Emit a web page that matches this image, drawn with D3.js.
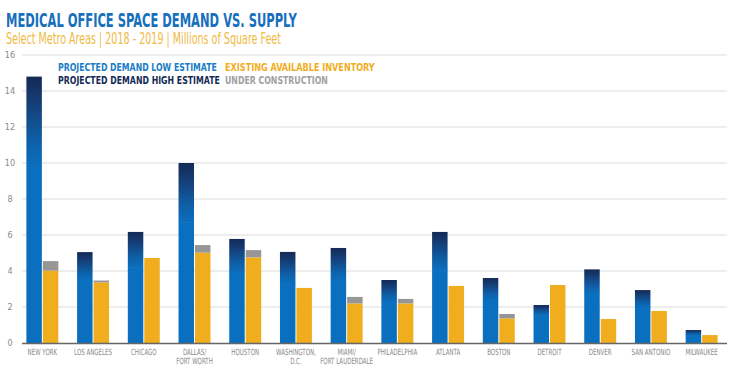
<!DOCTYPE html>
<html><head><meta charset="utf-8">
<script src="https://cdn.jsdelivr.net/npm/d3@7"></script>
<style>
body{margin:0;background:#fff;}
svg{display:block;}
text{font-family:"DejaVu Sans Condensed","Liberation Sans Narrow","Roboto",sans-serif;}
</style></head>
<body><svg id="c" width="742" height="365"></svg>
<script>
const cities = [["NEW YORK"],["LOS ANGELES"],["CHICAGO"],["DALLAS/","FORT WORTH"],["HOUSTON"],["WASHINGTON,","D.C."],["MIAMI/","FORT LAUDERDALE"],["PHILADELPHIA"],["ATLANTA"],["BOSTON"],["DETROIT"],["DENVER"],["SAN ANTONIO"],["MILWAUKEE"]];
const demandHigh = [14.8, 5.05, 6.17, 10.0, 5.78, 5.06, 5.28, 3.5, 6.17, 3.61, 2.11, 4.09, 2.94, 0.72];
const demandLow  = [9.8, 3.5, 4.2, 6.7, 3.9, 3.3, 3.5, 2.3, 4.05, 2.4, 1.55, 2.8, 2.0, 0.45];
const existing   = [4.02, 3.37, 4.72, 5.02, 4.76, 3.06, 2.2, 2.2, 3.17, 1.37, 3.22, 1.33, 1.78, 0.44];
const underConst = [0.53, 0.1, 0, 0.42, 0.4, 0, 0.36, 0.25, 0, 0.24, 0, 0, 0, 0];
const yTicks = [0,2,4,6,8,10,12,14,16];

const C = {blue:"#0b6fbf", navy:"#142a55", yellow:"#f0ad1e", grey:"#969696", title:"#1670bb", sub:"#efba3f", tick:"#8a8a8a"};

const svg = d3.select("#c");
const y = d3.scaleLinear().domain([0,16]).range([343,55]);
const x = d3.scaleBand().domain(d3.range(cities.length)).range([17,727]).paddingInner(0.37).paddingOuter(0.185);
const xs = d3.scaleBand().domain(["d","s"]).range([0,x.bandwidth()]).paddingInner(0.06);

function fitText(sel, x0, y0, w){
  sel.each(function(){
    const t = d3.select(this);
    const nat = this.getComputedTextLength();
    t.attr("x",0).attr("y",0).attr("transform",`translate(${x0},${y0}) scale(${w/nat},1)`);
  });
}

const defs = svg.append("defs");
const g = defs.append("linearGradient").attr("id","grad").attr("x1",0).attr("y1",1).attr("x2",0).attr("y2",0);
g.append("stop").attr("offset","0%").attr("stop-color",C.blue);
g.append("stop").attr("offset","30%").attr("stop-color","#0f5fa6");
g.append("stop").attr("offset","75%").attr("stop-color","#153b72");
g.append("stop").attr("offset","100%").attr("stop-color",C.navy);

svg.append("g").selectAll("line").data(yTicks.filter(d=>d>0)).join("line")
  .attr("x1",22).attr("x2",727).attr("y1",d=>y(d)).attr("y2",d=>y(d))
  .attr("stroke","#dcdcdc").attr("stroke-width",1.2);

const yAxis = svg.append("g").attr("transform","translate(14,0)")
  .call(d3.axisLeft(y).tickValues(yTicks).tickSize(0).tickPadding(0));
yAxis.select(".domain").remove();
yAxis.selectAll("text").attr("font-size",9).attr("fill",C.tick).attr("text-anchor","middle").attr("dx",-4);

const groups = svg.append("g").selectAll("g").data(cities).join("g")
  .attr("transform",(d,i)=>`translate(${x(i)},0)`);
groups.append("rect").attr("x",xs("d")).attr("width",xs.bandwidth())
  .attr("y",(d,i)=>y(demandLow[i])).attr("height",(d,i)=>y(0)-y(demandLow[i])).attr("fill",C.blue);
groups.append("rect").attr("x",xs("d")).attr("width",xs.bandwidth())
  .attr("y",(d,i)=>y(demandHigh[i])).attr("height",(d,i)=>y(demandLow[i])-y(demandHigh[i])+0.5).attr("fill","url(#grad)");
groups.append("rect").attr("x",xs("s")).attr("width",xs.bandwidth())
  .attr("y",(d,i)=>y(existing[i])).attr("height",(d,i)=>y(0)-y(existing[i])).attr("fill",C.yellow);
groups.filter((d,i)=>underConst[i]>0).append("rect").attr("x",xs("s")).attr("width",xs.bandwidth())
  .attr("y",(d)=>{const i=cities.indexOf(d);return y(existing[i]+underConst[i]);})
  .attr("height",(d)=>{const i=cities.indexOf(d);return y(existing[i])-y(existing[i]+underConst[i]);})
  .attr("fill",C.grey);

svg.append("line").attr("x1",22).attr("x2",727).attr("y1",y(0)+0.5).attr("y2",y(0)+0.5).attr("stroke","#666").attr("stroke-width",1.3);

groups.append("text").attr("transform",`translate(${x.bandwidth()/2},355) scale(0.72,1)`).attr("text-anchor","middle")
  .attr("font-size",8.5).attr("fill",C.tick)
  .selectAll("tspan").data(d=>d).join("tspan").attr("x",0).attr("dy",(d,j)=>j?9:0).text(d=>d);

svg.append("text").attr("font-size",19).attr("font-weight","bold").attr("fill",C.title)
  .text("MEDICAL OFFICE SPACE DEMAND VS. SUPPLY").call(fitText,6,27,291);
svg.append("text").attr("font-size",15).attr("fill",C.sub)
  .text("Select Metro Areas | 2018 - 2019 | Millions of Square Feet").call(fitText,6,44,275);

const leg = [
  {t:"PROJECTED DEMAND LOW ESTIMATE", x:58, y:71, w:159, c:"#1a7cc6"},
  {t:"EXISTING AVAILABLE INVENTORY", x:225, y:71, w:150, c:C.yellow},
  {t:"PROJECTED DEMAND HIGH ESTIMATE", x:58, y:84, w:162, c:C.navy},
  {t:"UNDER CONSTRUCTION", x:225, y:84, w:103, c:"#a0a0a0"}
];
svg.append("g").selectAll("text").data(leg).join("text")
  .attr("font-size",11).attr("font-weight","bold").attr("fill",d=>d.c).text(d=>d.t)
  .each(function(d){ fitText(d3.select(this), d.x, d.y, d.w); });
</script></body></html>
